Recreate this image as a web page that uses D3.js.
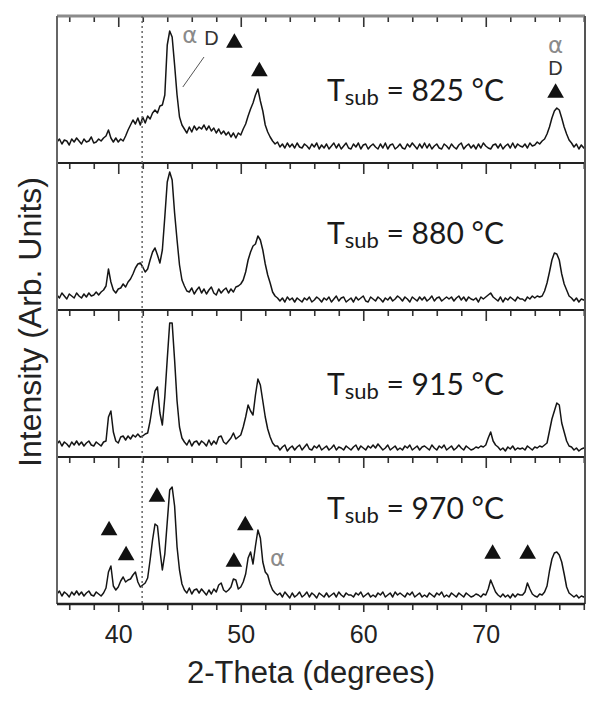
<!DOCTYPE html>
<html>
<head>
<meta charset="utf-8">
<script src="https://cdn.jsdelivr.net/npm/d3@7"></script>
<style>
  body { margin: 0; background: #fff; }
  svg text { font-family: "Liberation Sans", Arial, sans-serif; }
</style>
</head>
<body>
<div id="chart"></div>
<script>
// Scans are sampled from 35.0 deg in 0.2 deg steps
var angleStart = 35.0;
var angleStep = 0.2;

// Intensities (arb. units), one scan per substrate temperature
var t825 = [
  21,24,19,23,22,18,24,21,25,22,
  19,24,21,22,26,20,21,24,22,25,
  27,33,25,21,25,21,24,22,27,33,
  38,43,39,45,38,46,40,47,44,50,
  53,50,57,58,68,118,132,126,98,68,
  46,38,34,30,36,31,37,33,36,34,
  38,33,37,32,35,30,34,29,32,28,
  31,26,30,25,30,28,34,39,47,54,
  60,68,74,62,52,38,31,26,22,19,
  21,16,19,15,20,16,19,15,20,16,
  15,19,17,14,19,16,20,14,18,15,
  19,14,17,20,15,19,14,17,20,15,
  14,19,16,20,14,18,19,14,17,19,
  16,14,19,15,20,14,18,19,14,16,
  19,15,14,19,16,20,17,14,19,15,
  20,15,19,14,17,19,15,14,19,17,
  14,19,16,14,18,20,14,17,19,15,
  18,14,19,15,20,17,15,14,18,19,
  15,19,14,17,19,15,20,15,19,17,
  16,19,15,20,17,18,21,19,22,24,
  29,36,45,52,55,53,45,36,29,23,
  20,16,19,14,18,15,18
];

var t880 = [
  15,12,17,14,11,16,14,12,17,14,
  12,16,13,17,14,15,18,15,18,20,
  24,41,28,20,17,21,22,26,23,28,
  31,36,42,46,47,43,38,41,50,58,
  62,55,47,60,93,128,138,130,97,70,
  45,30,24,19,18,22,16,20,23,17,
  21,16,20,23,17,15,21,17,20,22,
  17,21,18,23,24,26,30,38,50,58,
  64,66,74,70,60,46,35,27,18,14,
  12,9,12,8,13,10,12,8,12,10,
  8,12,10,13,8,10,13,11,8,12,
  10,13,8,11,14,9,12,13,8,10,
  12,8,13,10,12,14,9,8,13,11,
  9,13,11,8,12,10,13,9,11,14,
  12,9,13,11,8,13,11,9,13,10,
  13,9,11,14,9,12,13,9,11,13,
  11,13,9,12,14,10,13,9,13,11,
  10,12,8,13,11,13,15,17,13,11,
  9,13,8,12,10,13,11,9,13,11,
  11,9,13,11,14,12,14,13,14,19,
  27,38,50,57,56,50,36,26,20,14,
  12,9,12,8,11,10,9
];

var t915 = [
  13,16,11,15,13,10,15,12,16,12,
  15,11,14,16,12,11,15,13,11,15,
  16,40,46,25,16,14,20,21,17,21,
  18,22,20,23,20,21,23,24,36,52,
  66,70,44,32,60,98,134,134,97,56,
  30,19,15,12,17,11,15,16,12,16,
  14,11,17,12,16,13,20,21,15,13,
  16,19,24,18,20,22,30,40,52,46,
  42,62,78,72,56,40,28,20,14,11,
  11,7,10,12,6,9,11,7,10,12,
  7,10,13,8,7,11,9,12,7,9,
  11,7,9,12,7,10,9,7,11,9,
  7,10,12,7,11,9,7,11,9,12,
  9,13,10,7,9,12,7,9,11,7,
  9,7,11,9,12,7,9,11,7,10,
  11,9,7,12,9,7,11,9,12,7,
  9,11,7,9,12,9,7,11,9,7,
  8,10,9,11,10,12,19,25,16,12,
  10,7,9,6,10,8,11,7,9,8,
  9,7,11,9,7,10,9,11,10,12,
  14,26,38,46,54,52,34,25,16,11,
  10,7,9,6,8,9,7
];

var t970 = [
  10,13,8,12,10,7,12,9,13,9,
  12,8,11,13,9,8,12,10,8,11,
  16,32,38,18,14,17,23,27,22,24,
  25,29,32,22,17,19,21,26,44,64,
  80,78,54,34,50,82,114,117,98,57,
  34,20,14,11,16,10,14,15,11,15,
  12,9,14,10,15,12,19,21,14,12,
  14,17,25,24,15,17,22,30,46,52,
  40,58,74,66,42,32,29,20,14,11,
  9,11,7,12,9,6,11,7,9,12,
  7,9,12,7,11,9,6,11,9,7,
  11,7,9,11,7,12,9,7,11,9,
  9,7,11,9,12,7,9,11,7,9,
  7,11,9,12,7,9,11,7,12,9,
  11,9,7,11,9,12,7,9,11,7,
  9,7,11,9,7,11,9,12,7,9,
  7,11,9,7,11,9,7,11,9,7,
  8,10,9,7,10,9,15,24,18,12,
  9,7,10,7,9,6,10,7,10,9,
  9,12,21,15,10,8,7,10,9,12,
  18,33,45,51,52,49,42,30,17,11,
  9,7,9,6,8,7,8
];

var temps = ["825", "880", "915", "970"];
var scans = [t825, t880, t915, t970];

var xMajor = [40, 50, 60, 70];
var xMinor = [36, 38, 42, 44, 46, 48, 52, 54, 56, 58, 62, 64, 66, 68, 72, 74, 76, 78];
var guideAngle = 41.95;

// peak markers: [panel, angle, level]
var triangles = [
  [0, 49.48, 122.5], [0, 51.52, 94], [0, 75.7, 72.5],
  [3, 39.25, 76], [3, 40.64, 51], [3, 43.16, 109.5], [3, 50.37, 81],
  [3, 49.44, 44.5], [3, 70.56, 52.5], [3, 73.42, 52.5]
];
var alphas = [[0, 45.85, 120], [0, 75.7, 110], [3, 53.0, 38]];
var dees = [[0, 47.6, 118], [0, 75.7, 88]];
var leader = [[0, 47.0, 106], [0, 45.27, 76]];

var W = 601, H = 705;
var plotLeft = 57, plotRight = 585, plotTop = 16, panelH = 147;
var plotBottom = plotTop + 4 * panelH;

var x = d3.scaleLinear().domain([35, 78.1]).range([plotLeft, plotRight]);
var y = d3.scaleLinear().domain([0, 147]).range([panelH, 0]);

var svg = d3.select("#chart").append("svg")
  .attr("width", W)
  .attr("height", H);

svg.append("defs").append("clipPath").attr("id", "clip")
  .append("rect")
  .attr("x", plotLeft).attr("y", 0)
  .attr("width", plotRight - plotLeft).attr("height", panelH);

var line = d3.line()
  .x((d, i) => x(angleStart + i * angleStep))
  .y(d => y(d));

var panels = svg.selectAll("g.panel")
  .data(scans)
  .enter()
  .append("g")
  .attr("class", "panel")
  .attr("transform", (d, i) => "translate(0," + (plotTop + i * panelH) + ")");

panels.append("path")
  .attr("clip-path", "url(#clip)")
  .attr("d", line)
  .attr("fill", "none")
  .attr("stroke", "#151515")
  .attr("stroke-width", 1.5)
  .attr("stroke-linejoin", "round");

// inner ticks hanging from each panel's top edge
function innerTicks(g, values, size) {
  g.call(d3.axisBottom(x).tickValues(values).tickSize(size).tickFormat(""));
  g.select(".domain").remove();
  g.selectAll(".tick line").attr("stroke", "#333").attr("stroke-width", 1.6);
}
panels.append("g").call(innerTicks, xMinor, 6);
panels.append("g").call(innerTicks, xMajor, 11);

// panel separators
panels.append("line")
  .attr("x1", plotLeft).attr("x2", plotRight)
  .attr("y1", 0).attr("y2", 0)
  .attr("stroke", (d, i) => i === 0 ? "#8c8c8c" : "#222")
  .attr("stroke-width", (d, i) => i === 0 ? 3 : 2);

// Tsub labels
var labelDy = [85, 81, 85, 62];
var lab = panels.append("text")
  .attr("x", 327)
  .attr("y", (d, i) => labelDy[i])
  .style("font-family", "Lato, 'Open Sans', sans-serif")
  .attr("fill", "#1a1a1a");
lab.append("tspan").attr("font-size", 30).text("T");
lab.append("tspan").attr("font-size", 22).attr("dy", 4).text("sub");
lab.append("tspan").attr("font-size", 30).attr("dy", -4)
  .text((d, i) => " = " + temps[i] + " \u00B0C");

// frame sides
svg.append("line").attr("x1", plotLeft).attr("x2", plotLeft).attr("y1", plotTop).attr("y2", plotBottom)
  .attr("stroke", "#666").attr("stroke-width", 2);
svg.append("line").attr("x1", plotRight).attr("x2", plotRight).attr("y1", plotTop).attr("y2", plotBottom)
  .attr("stroke", "#555").attr("stroke-width", 2);

// dotted guide line
svg.append("line")
  .attr("x1", x(guideAngle)).attr("x2", x(guideAngle))
  .attr("y1", plotTop).attr("y2", plotBottom)
  .attr("stroke", "#666").attr("stroke-width", 1.5)
  .attr("stroke-dasharray", "2,3");

// bottom axis
var axisG = svg.append("g").attr("transform", "translate(0," + plotBottom + ")");
axisG.append("g").call(d3.axisBottom(x).tickValues(xMinor).tickSize(6).tickFormat(""))
  .call(g => g.select(".domain").remove());
axisG.append("g").call(d3.axisBottom(x).tickValues(xMajor).tickSize(8).tickPadding(13).tickFormat(d3.format("d")))
  .call(g => g.select(".domain").remove())
  .call(g => g.selectAll("text").attr("font-size", 25).attr("fill", "#222")
    .style("font-family", "'Liberation Sans', Arial, sans-serif"));
axisG.selectAll(".tick line").attr("stroke", "#333").attr("stroke-width", 1.6);
axisG.append("line").attr("x1", plotLeft).attr("x2", plotRight).attr("y1", 0).attr("y2", 0)
  .attr("stroke", "#222").attr("stroke-width", 2.5);

// markers
function panelY(p, v) { return plotTop + p * panelH + y(v); }
svg.selectAll("path.tri")
  .data(triangles)
  .enter()
  .append("path")
  .attr("class", "tri")
  .attr("d", d3.symbol().type(d3.symbolTriangle).size(120))
  .attr("transform", d => "translate(" + x(d[1]) + "," + (panelY(d[0], d[2]) + 2.4) + ")")
  .attr("fill", "#111");

svg.selectAll("text.alpha")
  .data(alphas)
  .enter()
  .append("text")
  .attr("class", "alpha")
  .attr("x", d => x(d[1]))
  .attr("y", d => panelY(d[0], d[2]))
  .attr("text-anchor", "middle")
  .attr("font-size", 23)
  .style("font-family", "'DejaVu Sans', sans-serif")
  .attr("fill", "#8a8a8a")
  .text("\u03B1");

svg.selectAll("text.dee")
  .data(dees)
  .enter()
  .append("text")
  .attr("class", "dee")
  .attr("x", d => x(d[1]))
  .attr("y", d => panelY(d[0], d[2]))
  .attr("text-anchor", "middle")
  .attr("font-size", 20)
  .attr("fill", "#333")
  .text("D");

svg.append("path")
  .attr("d", d3.line().x(d => x(d[1])).y(d => panelY(d[0], d[2]))(leader))
  .attr("stroke", "#555")
  .attr("stroke-width", 1)
  .attr("fill", "none");

// axis titles
svg.append("text")
  .attr("x", 311)
  .attr("y", 683)
  .attr("text-anchor", "middle")
  .attr("font-size", 31)
  .attr("fill", "#222")
  .text("2-Theta (degrees)");

svg.append("text")
  .attr("transform", "translate(41,322) rotate(-90)")
  .attr("text-anchor", "middle")
  .attr("font-size", 32)
  .attr("fill", "#222")
  .text("Intensity (Arb. Units)");
</script>
</body>
</html>
